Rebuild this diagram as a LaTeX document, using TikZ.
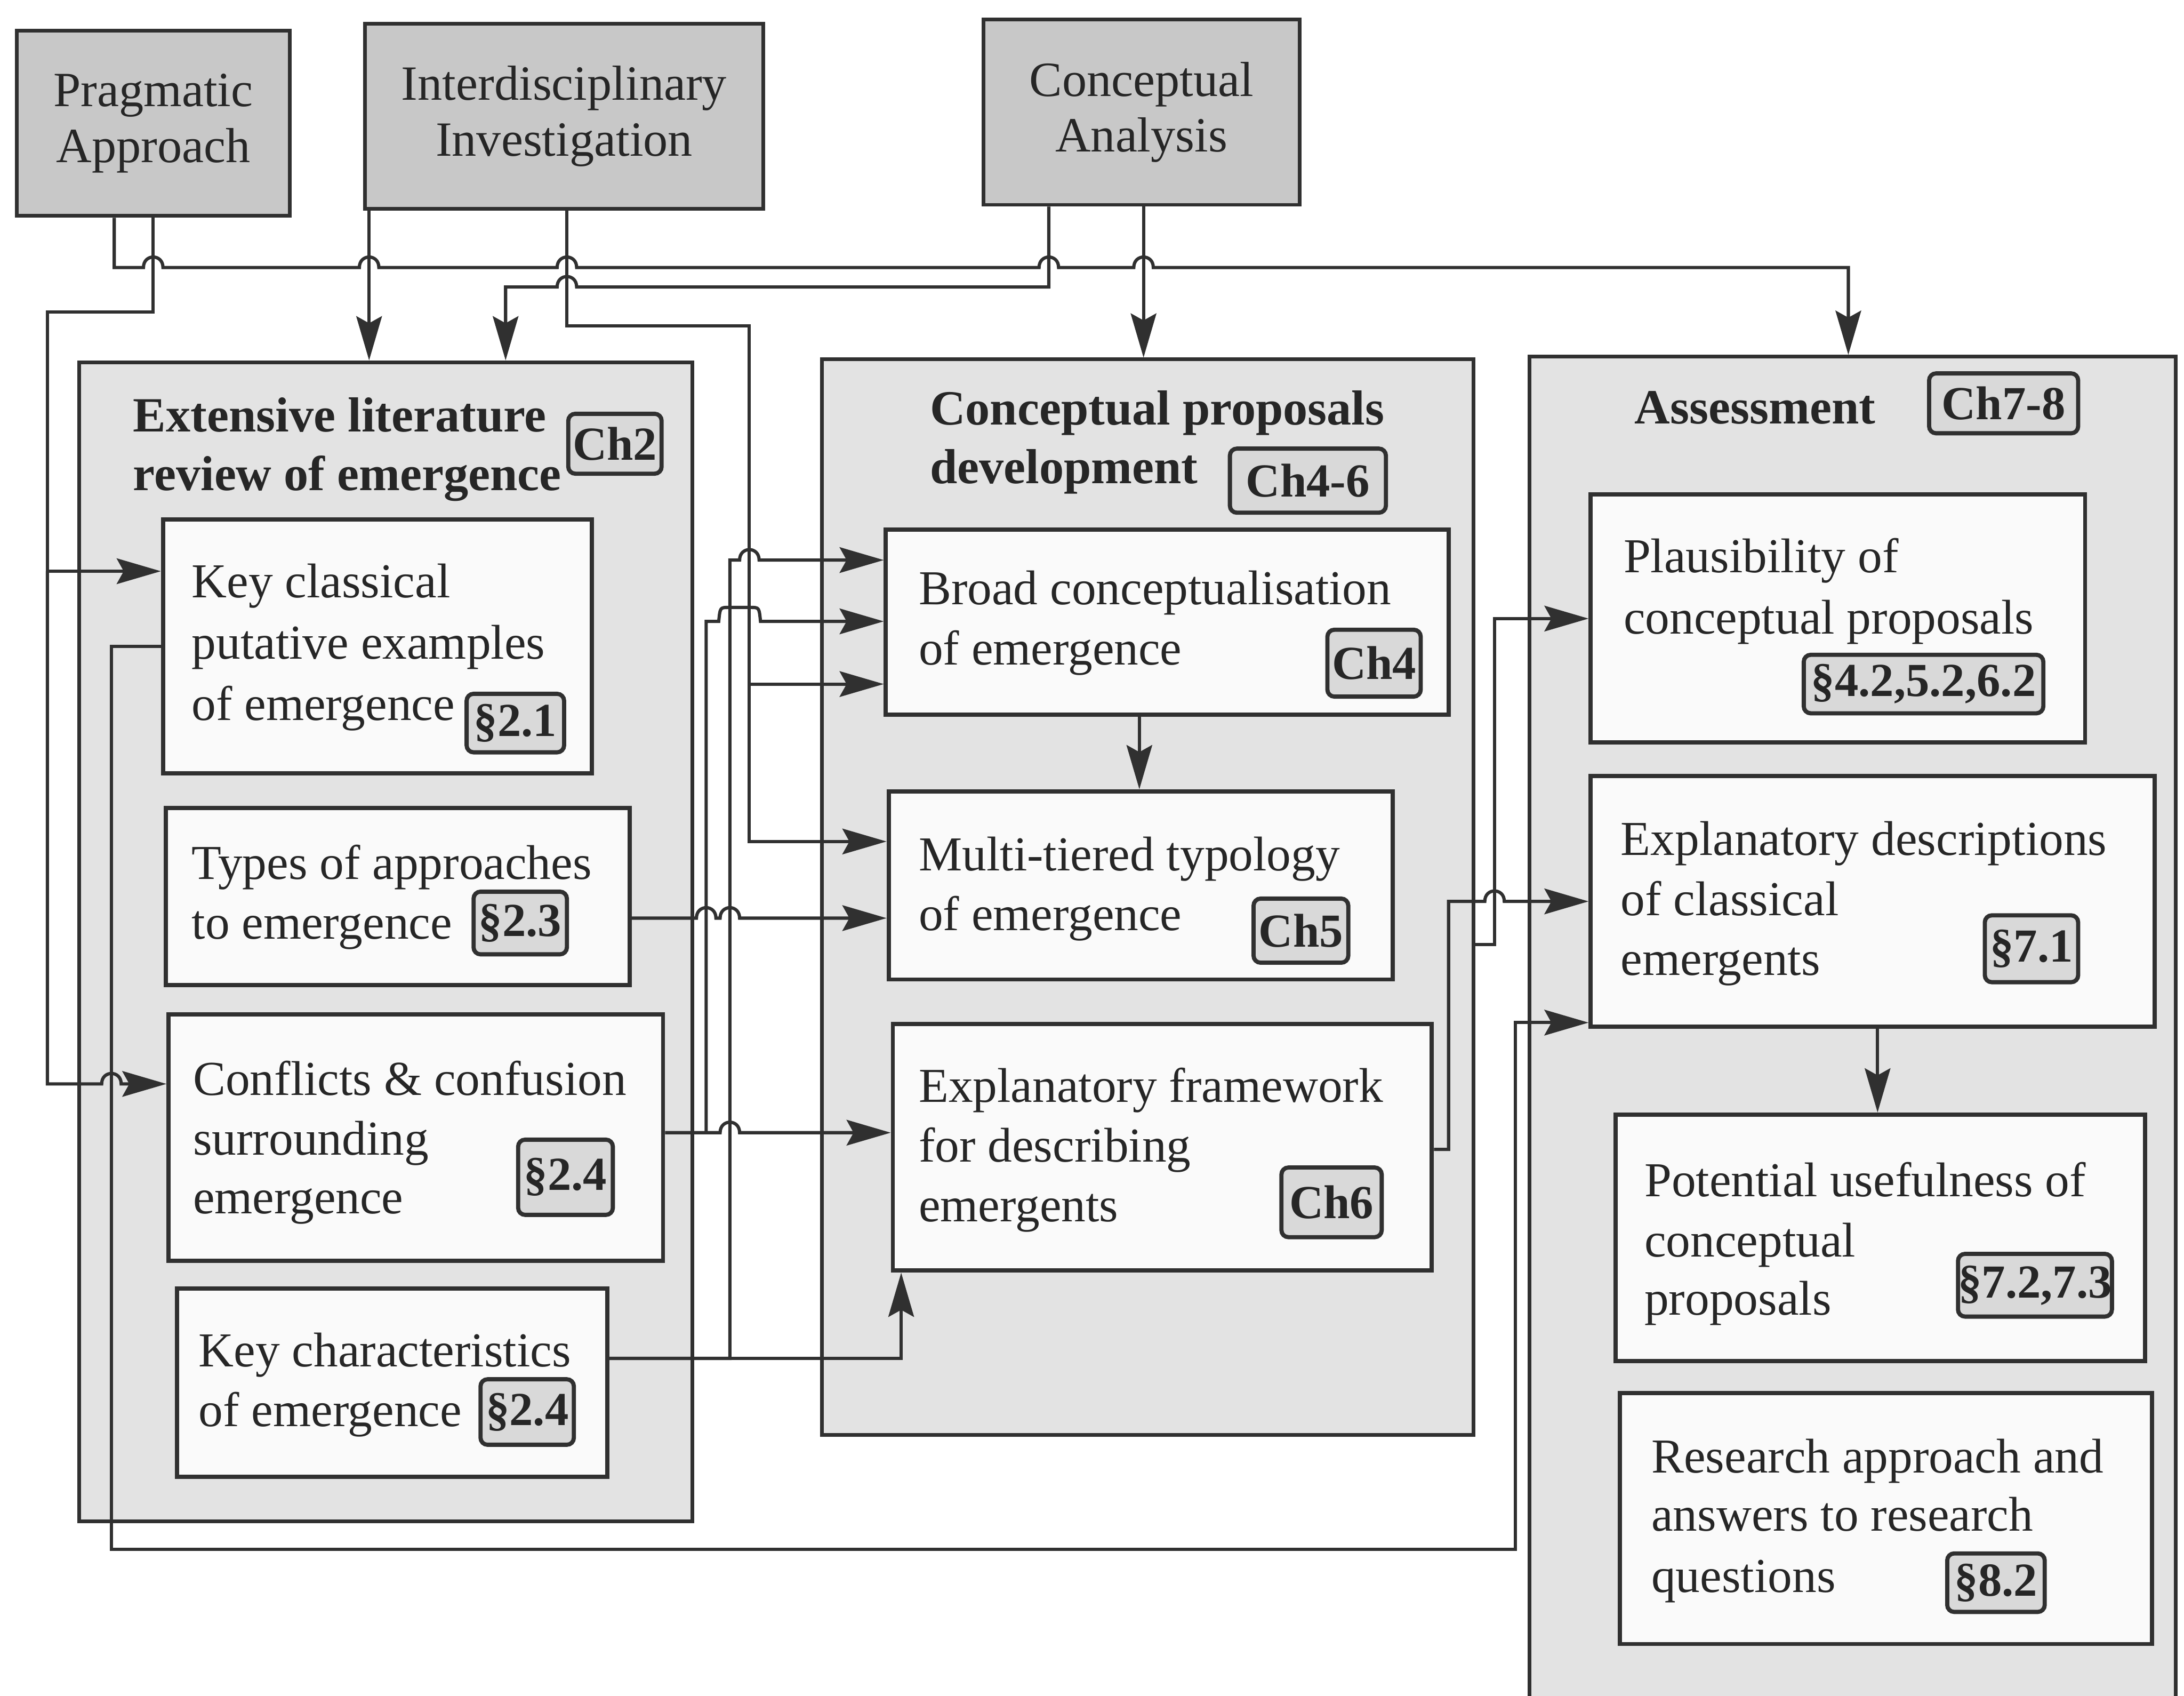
\documentclass[tikz,border=0pt]{standalone}
\usepackage{fontspec}
\setmainfont{Liberation Serif}
\usetikzlibrary{arrows.meta}

\definecolor{linec}{HTML}{303030}
\definecolor{txtc}{HTML}{262626}
\definecolor{topfill}{HTML}{C8C8C8}
\definecolor{grpfill}{HTML}{E3E3E3}
\definecolor{boxfill}{HTML}{FAFAFA}
\definecolor{tagfill}{HTML}{D9D9D9}

% line hops over a crossing vertical connector (rightward / leftward travel)
\newcommand\hopr[2]{-- ({#1-7},#2) .. controls ({#1-7},{#2-10}) and ({#1+7},{#2-10}) .. ({#1+7},#2)}
\newcommand\hopl[2]{-- ({#1+7},#2) .. controls ({#1+7},{#2-10}) and ({#1-7},{#2-10}) .. ({#1-7},#2)}
% a box given by its corners: name, x1, y1, x2, y2, style, text
\newcommand\cornerbox[7]{%
  \node[#6, minimum width={(#4-#2)*0.3pt}, minimum height={(#5-#3)*0.3pt}]
    (#1) at ({(#2+#4)/2},{(#3+#5)/2}) {#7};}

\begin{document}
\begin{tikzpicture}[
  x=0.3pt, y=-0.3pt,
  font=\fontsize{10.5}{12.9}\selectfont, text=txtc,
  topbox/.style={draw=linec, line width=0.8pt, fill=topfill, inner sep=0pt, align=center,
                 font=\fontsize{10.6}{12}\selectfont},
  grp/.style={draw=linec, line width=0.8pt, fill=grpfill, inner sep=0pt},
  inbox/.style={draw=linec, line width=0.9pt, fill=boxfill, inner sep=0pt},
  tagbox/.style={draw=linec, line width=0.9pt, fill=tagfill, inner sep=0pt, rounded corners=1.5pt,
                 font=\fontsize{10.2}{12}\selectfont\bfseries},
  lbl/.style={anchor=base west, inner sep=0pt},
  ttl/.style={lbl, font=\fontsize{10.6}{12.9}\selectfont\bfseries},
  conn/.style={draw=linec, line width=0.7pt},
  arr/.style={conn, -{Stealth[length=9.5pt,width=5.5pt,inset=1.5pt]}}
]
\useasboundingbox (0,0) rectangle (1568,1217);
\clip (0,0) rectangle (1568,1217);

% ---- chapter groups
\cornerbox{lit}{57}{260}{497}{1092}{grp}{}
\cornerbox{dev}{590}{258}{1058}{1030}{grp}{}
\cornerbox{ass}{1098}{256}{1562}{1240}{grp}{}

% ---- methodology boxes
\cornerbox{prag}{12}{22}{208}{155}{topbox}{Pragmatic\\Approach}
\cornerbox{inter}{262}{17}{548}{150}{topbox}{Interdisciplinary\\Investigation}
\cornerbox{conc}{706}{14}{933}{147}{topbox}{Conceptual\\Analysis}

% ---- group titles
\node[ttl] (litT1) at (95,310) {Extensive literature};
\node[ttl] (litT2) at (95,352) {review of emergence};
\cornerbox{ch2}{408}{297}{475}{340}{tagbox}{Ch2}

\node[ttl] (devT1) at (667,305) {Conceptual proposals};
\node[ttl] (devT2) at (667,347) {development};
\cornerbox{ch46}{883}{322}{995}{368}{tagbox}{Ch4-6}

\node[ttl] (assT1) at (1173,304) {Assessment};
\cornerbox{ch78}{1385}{268}{1492}{311}{tagbox}{Ch7-8}

% ---- literature review boxes
\cornerbox{kc}{117}{373}{425}{555}{inbox}{}
\node[lbl] (kc1) at (137,429) {Key classical};
\node[lbl] (kc2) at (137,473) {putative examples};
\node[lbl] (kc3) at (137,517) {of emergence};
\cornerbox{s21}{335}{498}{405}{540}{tagbox}{§2.1}

\cornerbox{ta}{119}{580}{452}{707}{inbox}{}
\node[lbl] (ta1) at (137,631) {Types of approaches};
\node[lbl] (ta2) at (137,674) {to emergence};
\cornerbox{s23}{340}{640}{407}{685}{tagbox}{§2.3}

\cornerbox{cf}{121}{728}{476}{905}{inbox}{}
\node[lbl] (cf1) at (138,786) {Conflicts \& confusion};
\node[lbl] (cf2) at (138,829) {surrounding};
\node[lbl] (cf3) at (138,871) {emergence};
\cornerbox{s24a}{372}{818}{440}{872}{tagbox}{§2.4}

\cornerbox{kch}{127}{925}{436}{1060}{inbox}{}
\node[lbl] (kch1) at (142,981) {Key characteristics};
\node[lbl] (kch2) at (142,1024) {of emergence};
\cornerbox{s24b}{345}{990}{412}{1037}{tagbox}{§2.4}

% ---- development boxes
\cornerbox{bc}{636}{380}{1040}{513}{inbox}{}
\node[lbl] (bc1) at (659,434) {Broad conceptualisation};
\node[lbl] (bc2) at (659,477) {of emergence};
\cornerbox{ch4}{953}{452}{1020}{500}{tagbox}{Ch4}

\cornerbox{mt}{638}{568}{1000}{703}{inbox}{}
\node[lbl] (mt1) at (659,625) {Multi-tiered typology};
\node[lbl] (mt2) at (659,668) {of emergence};
\cornerbox{ch5}{900}{645}{968}{691}{tagbox}{Ch5}

\cornerbox{ef}{641}{735}{1028}{912}{inbox}{}
\node[lbl] (ef1) at (659,791) {Explanatory framework};
\node[lbl] (ef2) at (659,834) {for describing};
\node[lbl] (ef3) at (659,877) {emergents};
\cornerbox{ch6}{920}{838}{992}{888}{tagbox}{Ch6}

% ---- assessment boxes
\cornerbox{pl}{1142}{355}{1497}{533}{inbox}{}
\node[lbl] (pl1) at (1165,411) {Plausibility of};
\node[lbl] (pl2) at (1165,455) {conceptual proposals};
\cornerbox{s4}{1295}{470}{1467}{512}{tagbox}{§4.2,5.2,6.2}

\cornerbox{ed}{1142}{557}{1547}{737}{inbox}{}
\node[lbl] (ed1) at (1163,614) {Explanatory descriptions};
\node[lbl] (ed2) at (1163,657) {of classical};
\node[lbl] (ed3) at (1163,700) {emergents};
\cornerbox{s71}{1425}{657}{1492}{705}{tagbox}{§7.1}

\cornerbox{pu}{1160}{800}{1540}{977}{inbox}{}
\node[lbl] (pu1) at (1180,859) {Potential usefulness of};
\node[lbl] (pu2) at (1180,902) {conceptual};
\node[lbl] (pu3) at (1180,944) {proposals};
\cornerbox{s72}{1407}{900}{1515}{945}{tagbox}{§7.2,7.3}

\cornerbox{ra}{1163}{1000}{1545}{1180}{inbox}{}
\node[lbl] (ra1) at (1185,1057) {Research approach and};
\node[lbl] (ra2) at (1185,1099) {answers to research};
\node[lbl] (ra3) at (1185,1143) {questions};
\cornerbox{s82}{1398}{1115}{1468}{1157}{tagbox}{§8.2}

% ---- connectors from the methodology boxes
\draw[arr] (prag.south -| 82,0) -- (82,192)
  \hopr{110}{192} \hopr{265}{192} \hopr{407}{192} \hopr{753}{192} \hopr{821}{192}
  -- (1327,192) -- (ass.north -| 1327,0);
\draw[arr] (prag.south -| 110,0) -- (110,224) -- (34,224) -- (34,410) -- (kc.west |- 0,410);
\draw[arr] (34,410) -- (34,778) \hopr{80}{778} -- (cf.west |- 0,778);

\draw[arr] (inter.south -| 265,0) -- (lit.north -| 265,0);
\draw[arr] (inter.south -| 407,0) -- (407,234) -- (538,234) -- (538,604) -- (mt.west |- 0,604);
\draw[arr] (538,491) -- (bc.west |- 0,491);

\draw[arr] (conc.south -| 753,0) -- (753,206) \hopl{407}{206} -- (363,206) -- (lit.north -| 363,0);
\draw[arr] (conc.south -| 821,0) -- (dev.north -| 821,0);

% ---- literature review -> development
\draw[arr] (ta.east |- 0,659) \hopr{507}{659} \hopr{524}{659} -- (mt.west |- 0,659);
\draw[arr] (cf.east |- 0,813) -- (507,813) -- (507,446)
  -- (516,446) .. controls (517,436) .. (523,436) -- (539,436) .. controls (545,436) .. (546,446)
  -- (bc.west |- 0,446);
\draw[arr] (507,813) \hopr{524}{813} -- (ef.west |- 0,813);
\draw[arr] (kch.east |- 0,975) -- (524,975) -- (524,402) \hopr{538}{402} -- (bc.west |- 0,402);
\draw[arr] (524,975) -- (647,975) -- (ef.south -| 647,0);

% ---- feedback loop from the classical examples
\draw[arr] (kc.west |- 0,464) -- (80,464) -- (80,1112) -- (1088,1112) -- (1088,734) -- (ed.west |- 0,734);

% ---- inside development and towards assessment
\draw[arr] (bc.south -| 818,0) -- (mt.north -| 818,0);
\draw[arr] (dev.east |- 0,678) -- (1073,678) -- (1073,444) -- (pl.west |- 0,444);
\draw[arr] (ef.east |- 0,825) -- (1040,825) -- (1040,647) \hopr{1073}{647} -- (ed.west |- 0,647);
\draw[arr] (ed.south -| 1348,0) -- (pu.north -| 1348,0);
\end{tikzpicture}
\end{document}
